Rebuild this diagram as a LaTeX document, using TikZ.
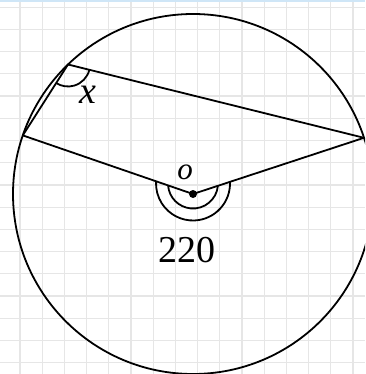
\documentclass[tikz,border=0pt]{standalone}
\usepackage{fontspec}
\setmainfont{Liberation Serif}
\definecolor{gridgray}{HTML}{E6E6E6}
\definecolor{topblue}{HTML}{CFE6F7}
\tikzset{
  gridline/.style={draw=gridgray, line width=1.2pt},
  figline/.style={draw=black, line width=1.8pt, line join=round},
  marklabel/.style={inner sep=0pt, font=\fontsize{38}{40}\selectfont\itshape},
  numlabel/.style={inner sep=0pt, font=\fontsize{38}{40}\selectfont},
}
\begin{document}
\begin{tikzpicture}[x=1pt, y=1pt, yscale=-1]
  \useasboundingbox (0,0) rectangle (365,374);
  \clip (0,0) rectangle (365,374);
  \fill[white] (0,0) rectangle (365,374);
  % grid
  \foreach \k in {0,...,15} { \draw[gridline] (20+22.2*\k,0) -- (20+22.2*\k,374); }
  \foreach \k in {0,...,16} { \draw[gridline] (0,7.3+22.2*\k) -- (365,7.3+22.2*\k); }
  \draw[draw=topblue, line width=2pt] (0,1) -- (365,1);
  % points
  \coordinate (O) at (193,194);
  \coordinate (K) at (193,183.5);
  \coordinate (A) at (68,64.5);
  \coordinate (B) at (22.8,135.4);
  \coordinate (C) at (364,137.8);
  % circle
  \draw[figline] (O) circle (180);
  % chords and radii
  \draw[figline] (A) -- (C) -- (O) -- (B) -- cycle;
  % angle x
  \draw[figline] ([shift={(13.9:22)}]A) arc (13.9:122.5:22);
  % reflex angle marks
  \draw[figline] ([shift={(5.3:25)}]K) arc (5.3:175.6:25);
  \draw[figline] ([shift={(-2.6:37)}]K) arc (-2.6:183.4:37);
  \fill (O) circle (4);
  % labels
  \node[marklabel] (xl) at (88,95) {x};
  \node[marklabel, font=\fontsize{31}{33}\selectfont\itshape] (ol) at (185,172) {o};
  \node[numlabel] (num) at (186.5,250.5) {220};
\end{tikzpicture}
\end{document}
